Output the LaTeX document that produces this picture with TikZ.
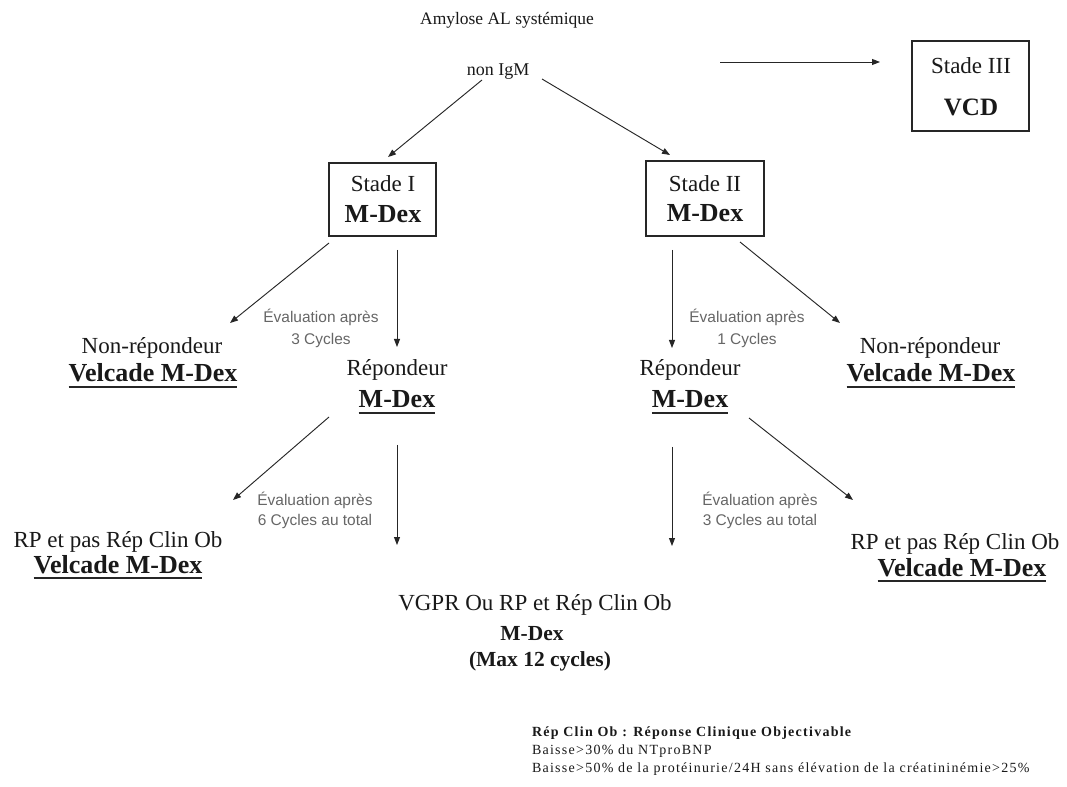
\documentclass[tikz,border=0pt]{standalone}
\usepackage{fontspec}
\setmainfont{Liberation Serif}
\newfontfamily\arialf{Liberation Sans}
\newfontfamily\legf{Liberation Serif}[LetterSpace=9]
\usetikzlibrary{arrows.meta}
\begin{document}
\begin{tikzpicture}[x=0.75pt,y=-0.75pt,
  every node/.style={inner sep=0pt,outer sep=0pt,text=black!90},
  arr/.style={draw=black!85,line width=0.7pt,-{Triangle[length=6pt,width=4.5pt]}},
  boxst/.style={draw=black!85,line width=1.6pt},
  ul/.style={draw=black!85,line width=1.1pt},
  titlet/.style={anchor=base,font=\fontsize{13.1}{15}\selectfont},
  reg/.style={anchor=base,font=\fontsize{17.25}{20}\selectfont},
  bld/.style={anchor=base,font=\fontsize{19.5}{22}\selectfont\bfseries},
  bldsm/.style={anchor=base,font=\fontsize{16.1}{19}\selectfont\bfseries},
  evalt/.style={anchor=base,font=\arialf\fontsize{11.6}{13}\selectfont,text=black!60},
  leg/.style={anchor=base west,font=\legf\fontsize{10.5}{12}\selectfont},
  legb/.style={anchor=base west,font=\legf\fontsize{10.5}{12}\selectfont\bfseries}]
\useasboundingbox (0,0) rectangle (1067,787);
\fill[white] (0,0) rectangle (1067,787);

% header
\node[titlet] (title) at (507,25) {Amylose AL systémique};
\node[anchor=base,font=\fontsize{13.5}{15}\selectfont] (nonigm) at (498,76) {non IgM};

% boxes
\node[boxst,minimum width=80.25pt,minimum height=54.75pt] (s1) at (382.5,199.5) {};
\node[boxst,minimum width=88.5pt,minimum height=56.25pt] (s2) at (705,198.5) {};
\node[boxst,minimum width=87.75pt,minimum height=67.5pt] (s3) at (970.5,86) {};
\node[reg] (s1a) at (383,192) {Stade I};
\node[bld] (s1b) at (383,223) {M-Dex};
\node[reg] (s2a) at (705,192) {Stade II};
\node[bld] (s2b) at (705,222) {M-Dex};
\node[reg] (s3a) at (971,74) {Stade III};
\node[anchor=base,font=\fontsize{18.75}{22}\selectfont\bfseries] (s3b) at (971,116) {VCD};

% level 2
\node[reg] (nr1) at (152,354) {Non-répondeur};
\node[bld] (v1) at (153,382) {Velcade M-Dex};
\node[reg] (r1) at (397,376) {Répondeur};
\node[bld] (m1) at (397,408) {M-Dex};
\node[reg] (r2) at (690,376) {Répondeur};
\node[bld] (m2) at (690,408) {M-Dex};
\node[reg] (nr2) at (930,354) {Non-répondeur};
\node[bld] (v2) at (931,382) {Velcade M-Dex};
\node[evalt] (e1a) at (321,323) {Évaluation après};
\node[evalt] (e1b) at (321,345) {3 Cycles};
\node[evalt] (e2a) at (747,323) {Évaluation après};
\node[evalt] (e2b) at (747,345) {1 Cycles};

% level 3
\node[evalt] (e3a) at (315,506) {Évaluation après};
\node[evalt] (e3b) at (315,525) {6 Cycles au total};
\node[evalt] (e4a) at (760,506) {Évaluation après};
\node[evalt] (e4b) at (760,525) {3 Cycles au total};
\node[reg] (rp1) at (118,547) {RP et pas Rép Clin Ob};
\node[bld] (vv1) at (118,573) {Velcade M-Dex};
\node[reg] (rp2) at (955,549) {RP et pas Rép Clin Ob};
\node[bld] (vv2) at (962,576) {Velcade M-Dex};
\node[reg] (vg) at (535,610) {VGPR Ou RP et Rép Clin Ob};
\node[bldsm] (md) at (532,640) {M-Dex};
\node[bldsm] (mx) at (540,666) {(Max 12 cycles)};

% legend
\node[legb] (l1) at (532,736) {Rép Clin Ob : Réponse Clinique Objectivable};
\node[leg] (l2) at (532,754) {Baisse>30\% du NTproBNP};
\node[leg] (l3) at (532,772) {Baisse>50\% de la protéinurie/24H sans élévation de la créatininémie>25\%};

% underlines
\foreach \n in {v1,m1,m2,v2,vv1,vv2}
  \draw[ul] ([yshift=-3.75pt]\n.base west) -- ([yshift=-3.75pt]\n.base east);

% connector end points
\coordinate (a1s) at (482,80);  \coordinate (a1e) at (388,157);
\coordinate (a2s) at (542,79);  \coordinate (a2e) at (670,155);
\coordinate (a3s) at (720,62);  \coordinate (a3e) at (880,62);
\coordinate (b1s) at (329,243); \coordinate (b1e) at (230,323);
\coordinate (b2s) at (397,250); \coordinate (b2e) at (397,347);
\coordinate (b3s) at (672,250); \coordinate (b3e) at (672,348);
\coordinate (b4s) at (740,242); \coordinate (b4e) at (840,323);
\coordinate (c1s) at (329,417); \coordinate (c1e) at (233,500);
\coordinate (c2s) at (397,445); \coordinate (c2e) at (397,545);
\coordinate (c3s) at (672,447); \coordinate (c3e) at (672,546);
\coordinate (c4s) at (749,418); \coordinate (c4e) at (853,500);

\draw[arr] (a1s) -- (a1e);
\draw[arr] (a2s) -- (a2e);
\draw[arr] (a3s) -- (a3e);
\draw[arr] (b1s) -- (b1e);
\draw[arr] (b2s) -- (b2e);
\draw[arr] (b3s) -- (b3e);
\draw[arr] (b4s) -- (b4e);
\draw[arr] (c1s) -- (c1e);
\draw[arr] (c2s) -- (c2e);
\draw[arr] (c3s) -- (c3e);
\draw[arr] (c4s) -- (c4e);
\end{tikzpicture}
\end{document}
